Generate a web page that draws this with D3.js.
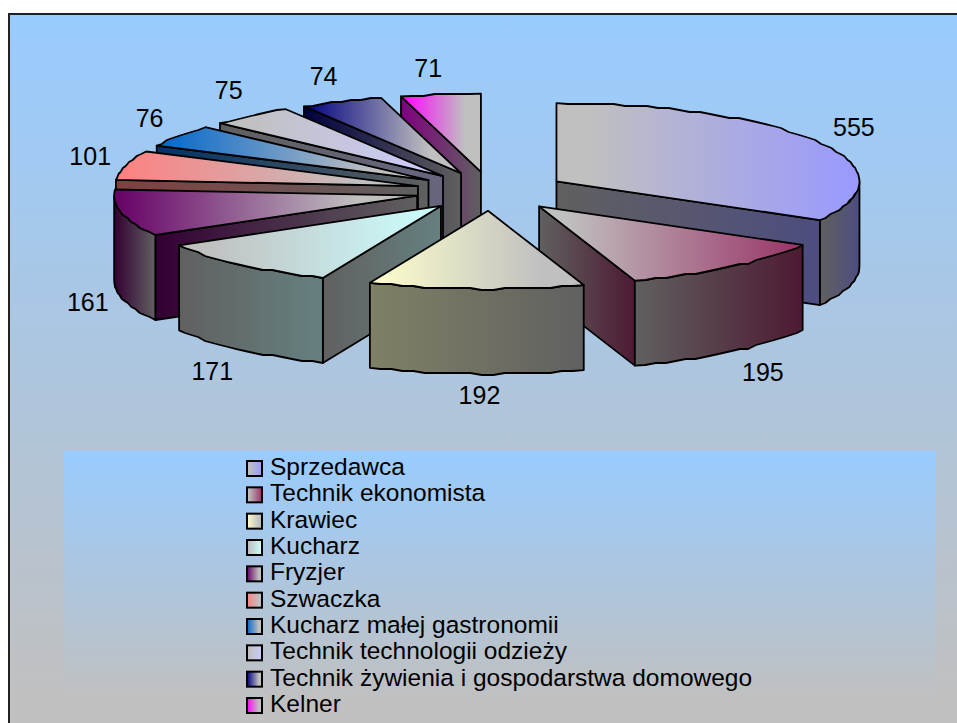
<!DOCTYPE html>
<html>
<head>
<meta charset="utf-8">
<script src="https://cdnjs.cloudflare.com/ajax/libs/d3/7.8.5/d3.min.js"></script>
<style>
  html, body { margin: 0; padding: 0; background: #fff; overflow: hidden; }
  text { font-family: "Liberation Sans", Arial, sans-serif; fill: #000; }
</style>
</head>
<body>
<div id="vis"></div>
<script>
var categories = ['Sprzedawca', 'Technik ekonomista', 'Krawiec', 'Kucharz', 'Fryzjer', 'Szwaczka',
  'Kucharz małej gastronomii', 'Technik technologii odzieży', 'Technik żywienia i gospodarstwa domowego', 'Kelner'];
var values = [555, 195, 192, 171, 161, 101, 76, 75, 74, 71];
var colors = ['#9999ff', '#993366', '#ffffcc', '#ccffff', '#660066', '#ff8080', '#0066cc', '#ccccff', '#000080', '#ff00ff'];
// which slices have their colour on the left of the gradient (the rest fade from grey on the left)
var colorOnLeft = [false, false, true, false, true, true, true, false, true, true];
// back to front, so nearer slices cover the ones behind
var drawOrder = [9, 8, 7, 6, 5, 4, 3, 0, 1, 2];
// small hand nudges for the value labels
var labelNudgeX = [1, 6, 5, -2, 5, 3, 4, 3, -2, -7];
var labelNudgeY = [-1, 1, -4, 3, -1, -1, -2, -4, -1, 0];

var width = 957, height = 723;
var depth = 85, explode = 0.25, labelGapX = 40, labelGapY = 26;
var toRad = Math.PI / 180;

// flattened disc: unit circle to screen
var x = d3.scaleLinear().domain([-1, 1]).range([188, 794]);
var y = d3.scaleLinear().domain([-1, 1]).range([113, 269.5]);
var legendY = d3.scalePoint().domain(categories).range([467, 704]);

var svg = d3.select('#vis').append('svg').attr('width', width).attr('height', height).style('display', 'block');
var defs = svg.append('defs');

function vGrad(id, y1, y2) {
  var g = defs.append('linearGradient').attr('id', id).attr('gradientUnits', 'userSpaceOnUse')
    .attr('x1', 0).attr('y1', y1).attr('x2', 0).attr('y2', y2);
  g.append('stop').attr('offset', 0).attr('stop-color', '#99ccff');
  g.append('stop').attr('offset', 1).attr('stop-color', '#c0c0c0');
}
vGrad('bgGrad', 14, 700);
vGrad('legendGrad', 451, 700);

function hGrad(id, left, right, leftEnd, rightStart) {
  var g = defs.append('linearGradient').attr('id', id);
  g.append('stop').attr('offset', leftEnd).attr('stop-color', left);
  g.append('stop').attr('offset', rightStart).attr('stop-color', right);
}

function darken(c) {
  var r = d3.rgb(c);
  return d3.rgb(r.r * 0.5, r.g * 0.5, r.b * 0.5).formatHex();
}

colors.forEach(function(c, i) {
  if (colorOnLeft[i]) {
    // the coloured ends go grey a bit before the tip of the slice
    hGrad('top' + i, c, '#c0c0c0', 0, 0.8);
    hGrad('side' + i, darken(c), '#606060', 0, 1);
  } else {
    hGrad('top' + i, '#c0c0c0', c, 0.1, 1);
    hGrad('side' + i, '#606060', darken(c), 0, 1);
  }
});

svg.append('rect').attr('x', 9).attr('y', 14).attr('width', 960).attr('height', 730)
  .attr('fill', 'url(#bgGrad)').attr('stroke', '#222').attr('stroke-width', 2);

var pie = d3.pie().sort(null).startAngle(0).endAngle(2 * Math.PI);
var slices = pie(values).map(function(d, i) {
  var mid = (d.startAngle + d.endAngle) / 2;
  d.i = i;
  d.mid = mid;
  // slice is pushed out along its middle
  d.ox = Math.sin(mid) * explode;
  d.oy = -Math.cos(mid) * explode;
  return d;
});

function pt(d, a, r, drop) {
  return [x(d.ox + Math.sin(a) * r), y(d.oy - Math.cos(a) * r) + (drop || 0)];
}

// the reference's rim is slightly stepped, so snap the y of the rim samples
function rim(d, a0, a1, drop) {
  var n = Math.max(1, Math.ceil((a1 - a0) / (2.2 * toRad)));
  var pts = d3.range(n + 1).map(function(k) {
    var p = pt(d, a0 + (a1 - a0) * k / n, 1, 0);
    if (k > 0 && k < n) p[1] = Math.round(p[1] / 2) * 2;
    p[1] += drop || 0;
    return p;
  });
  return pts;
}

var line = d3.line();

function drawSlice(g, d) {
  var a0 = d.startAngle, a1 = d.endAngle;
  var apex = pt(d, 0, 0);
  var side = 'url(#side' + d.i + ')';

  function cut(a) {
    var e = pt(d, a, 1);
    var p = [apex, e, [e[0], e[1] + depth], [apex[0], apex[1] + depth]];
    g.append('path').attr('d', line(p) + 'Z').attr('fill', side);
  }
  if (Math.sin(a0) < -1e-6) cut(a0);
  if (Math.sin(a1) > 1e-6) cut(a1);

  var w0 = Math.max(a0, Math.PI / 2), w1 = Math.min(a1, 3 * Math.PI / 2);
  if (w1 > w0) {
    var rimTop = rim(d, w0, w1, 0);
    var rimBottom = rim(d, w0, w1, depth).reverse();
    g.append('path').attr('d', line(rimTop.concat(rimBottom)) + 'Z').attr('fill', side);
  }

  var top = [apex].concat(rim(d, a0, a1, 0));
  g.append('path').attr('d', line(top) + 'Z').attr('fill', 'url(#top' + d.i + ')');
}

var chart = svg.append('g').attr('stroke', '#000').attr('stroke-width', 1.8).attr('stroke-linejoin', 'round');
drawOrder.forEach(function(i) {
  drawSlice(chart.append('g').attr('class', 'slice'), slices[i]);
});

svg.selectAll('.value').data(slices).enter().append('text')
  .attr('class', 'value')
  .attr('text-anchor', 'middle')
  .attr('font-size', 25)
  .attr('x', function(d, i) { return pt(d, d.mid, 1)[0] + Math.sin(d.mid) * labelGapX + labelNudgeX[i]; })
  .attr('y', function(d, i) {
    var front = Math.cos(d.mid) < 0 || Math.sin(d.mid) < 0 && d.mid < 1.5 * Math.PI;
    return pt(d, d.mid, 1, front ? depth : 0)[1] - Math.cos(d.mid) * labelGapY + 8 + labelNudgeY[i];
  })
  .text(function(d) { return d.value; });

// legend
svg.append('rect').attr('x', 64).attr('y', 451).attr('width', 872).attr('height', 249).attr('fill', 'url(#legendGrad)');

var items = svg.selectAll('.item').data(categories).enter().append('g')
  .attr('class', 'item')
  .attr('transform', function(d) { return 'translate(0,' + legendY(d) + ')'; });

items.append('rect')
  .attr('x', 247).attr('y', -6).attr('width', 15).attr('height', 15)
  .attr('stroke', '#000').attr('stroke-width', 2)
  .attr('fill', function(d, i) { return 'url(#top' + i + ')'; });

items.append('text')
  .attr('x', 270).attr('y', 8)
  .attr('font-size', 24.5)
  .text(function(d) { return d; });
</script>
</body>
</html>
